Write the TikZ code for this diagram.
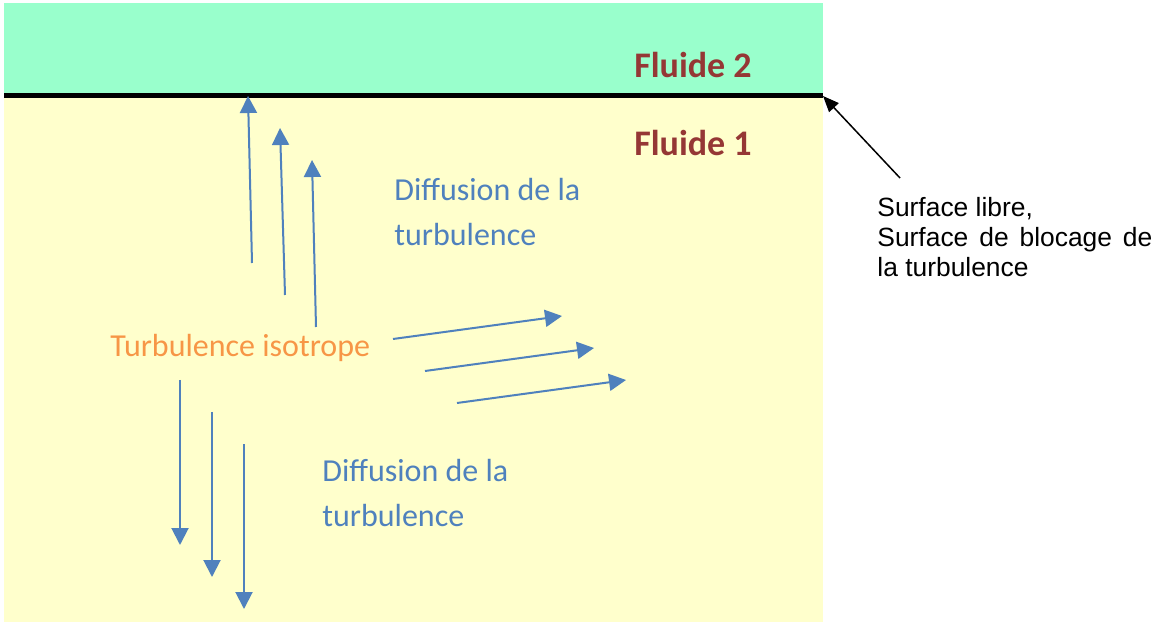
\documentclass[tikz,border=0pt]{standalone}
\usepackage{fontspec}
\setmainfont{Carlito}
\newfontfamily\arialfont{Liberation Sans}
\usetikzlibrary{arrows.meta,positioning}

\definecolor{vert}{HTML}{99FFCC}
\definecolor{jaune}{HTML}{FFFFCC}
\definecolor{rouge}{HTML}{953735}
\definecolor{bleu}{HTML}{4F81BD}
\definecolor{orange}{HTML}{F79646}

\begin{document}
\begin{tikzpicture}[x=0.5pt,y=-0.5pt,
  diff/.style={-{Triangle[width=8.5pt,length=8.5pt]},draw=bleu,line width=1pt},
  fleche/.style={-{Triangle[width=6.5pt,length=8pt]},draw=black,line width=0.75pt},
  titre/.style={font=\bfseries\fontsize{18}{22}\selectfont,text=rouge,inner sep=0pt},
  iso/.style={font=\fontsize{16}{20}\selectfont,text=orange,inner sep=0pt},
  diffu/.style={font=\fontsize{16}{22.5}\selectfont,text=bleu,align=left,inner sep=0pt},
  note/.style={font=\arialfont\fontsize{13.2}{15}\selectfont,text width=137.5pt,align=justify,inner sep=0pt}]

\useasboundingbox (0,0) rectangle (1165,624);

% les deux fluides
\fill[vert] (4,3) rectangle (823,95);
\fill[jaune] (4,97) rectangle (823,622);
\draw[line width=2.5pt] (4,96) coordinate (S0) -- (823,96) coordinate (S1);

\node[titre] (F2) at (693,65) {Fluide 2};
\node[titre] (F1) at (693,143) {Fluide 1};

\node[iso, anchor=west] (T) at (110,348) {Turbulence isotrope};
\node[diffu, anchor=west] (D1) at (394,212) {Diffusion de la\\turbulence};
\node[diffu, anchor=west] (D2) at (322,493) {Diffusion de la\\turbulence};

\node[note, anchor=north west] (L) at (877,197) {Surface libre,\\Surface de blocage de la turbulence};
\coordinate (N) at (900,178);

% fleches vers le haut
\coordinate (H1) at (252,263); \coordinate (H1s) at (248,96);
\coordinate (H2) at (285,295); \coordinate (H2s) at (280,128);
\coordinate (H3) at (316,327); \coordinate (H3s) at (312,160);

% fleches vers la droite
\coordinate (R1) at (393,339); \coordinate (R1s) at (562,316);
\coordinate (R2) at (425,371); \coordinate (R2s) at (594,348);
\coordinate (R3) at (457,403); \coordinate (R3s) at (626,380);

% fleches vers le bas
\coordinate (B1) at (180,380); \coordinate (B1s) at (180,545);
\coordinate (B2) at (212,412); \coordinate (B2s) at (212,577);
\coordinate (B3) at (244,444); \coordinate (B3s) at (244,609);

\path (H1) edge[diff] (H1s)
      (H2) edge[diff] (H2s)
      (H3) edge[diff] (H3s);

\path (R1) edge[diff] (R1s)
      (R2) edge[diff] (R2s)
      (R3) edge[diff] (R3s);

\path (B1) edge[diff] (B1s)
      (B2) edge[diff] (B2s)
      (B3) edge[diff] (B3s);

\path (N) edge[fleche] (S1);

\end{tikzpicture}
\end{document}
